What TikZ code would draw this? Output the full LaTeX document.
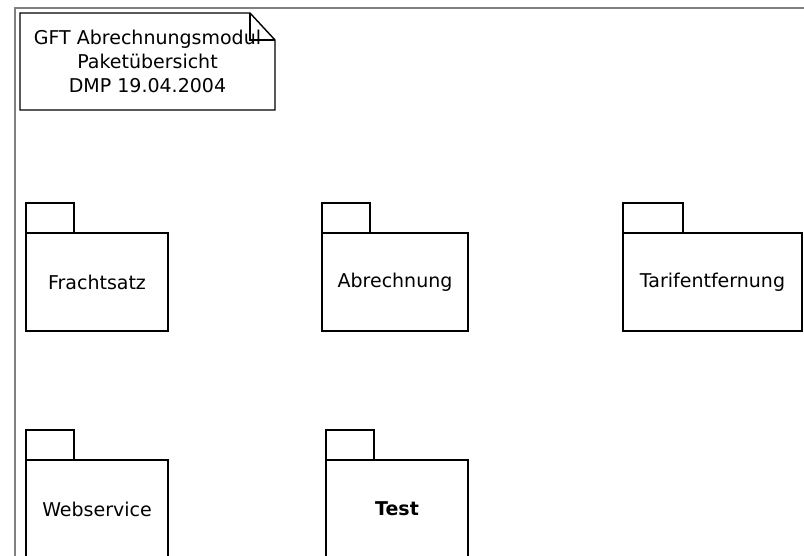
\documentclass[tikz,border=0pt]{standalone}
\usepackage{fontspec}
\setmainfont{DejaVu Sans}
\usetikzlibrary{positioning}

\begin{document}
\begin{tikzpicture}[x=1pt, y=-1pt]
	%define block styles
	\tikzset{
		pkgbody/.style={rectangle, draw=black, line width=1.4pt, outer sep=0pt, inner sep=0pt, minimum height=98pt, font=\fontsize{19}{22}\selectfont},
		pkgtab/.style={rectangle, draw=black, line width=1.4pt, outer sep=0pt, inner sep=0pt, minimum height=30pt},
		notebox/.style={rectangle, outer sep=0pt, minimum width=255pt, minimum height=97pt, align=center, font=\fontsize{19}{24}\selectfont},
		frame/.style={draw=gray, line width=2pt},
	}
	\useasboundingbox (0,0) rectangle (804,556);
	%frame
	\draw[frame] (15,556) -- (15,8) -- (804,8);
	%define note
	\node[notebox](note) at (147.5,61.5){GFT Abrechnungsmodul\\Paketübersicht\\DMP 19.04.2004};
	\draw[line width=1.4pt] (note.north west) -- ([xshift=-25pt]note.north east) -- ([yshift=-27pt]note.north east) -- (note.south east) -- (note.south west) -- cycle;
	\draw[line width=1.4pt] ([xshift=-25pt]note.north east) |- ([yshift=-27pt]note.north east);
	%define packages
	\node[pkgbody, minimum width=142pt](fracht) at (97,282){Frachtsatz};
	\node[pkgtab, minimum width=48pt, above right=0pt of fracht.north west](frachttab){};
	\node[pkgbody, minimum width=146pt](abrech) at (395,282){Abrechnung};
	\node[pkgtab, minimum width=48pt, above right=0pt of abrech.north west](abrechtab){};
	\node[pkgbody, minimum width=179pt](tarif) at (712.5,282){Tarifentfernung};
	\node[pkgtab, minimum width=60pt, above right=0pt of tarif.north west](tariftab){};
	\node[pkgbody, minimum width=142pt](websvc) at (97,509){Webservice};
	\node[pkgtab, minimum width=48pt, above right=0pt of websvc.north west](websvctab){};
	\node[pkgbody, minimum width=142pt, font=\fontsize{19}{22}\selectfont\bfseries](test) at (397,509){Test};
	\node[pkgtab, minimum width=48pt, above right=0pt of test.north west](testtab){};
\end{tikzpicture}
\end{document}
